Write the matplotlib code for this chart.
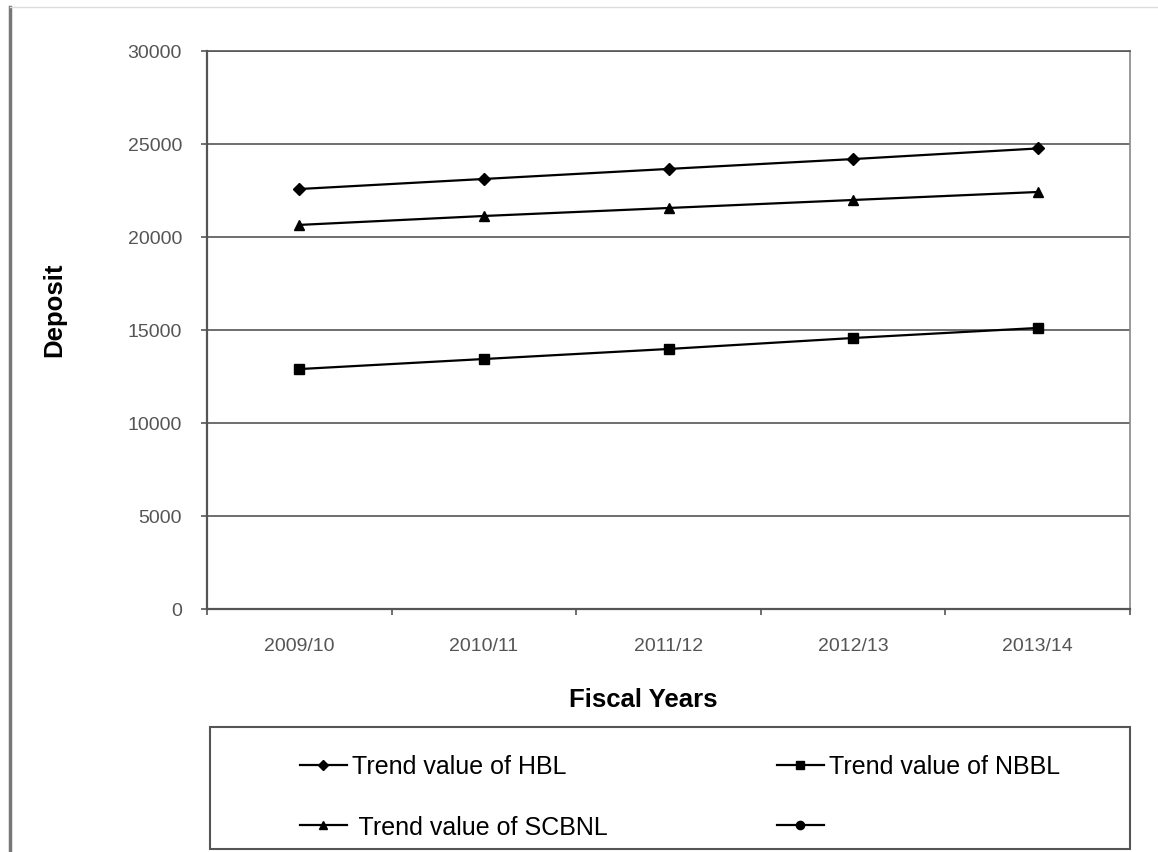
import matplotlib.pyplot as plt
from matplotlib.lines import Line2D
from matplotlib.patches import Rectangle

plt.rcParams['font.family'] = ['Liberation Sans', 'DejaVu Sans']

# Data
years = ['2009/10', '2010/11', '2011/12', '2012/13', '2013/14']
hbl = [22580, 23120, 23660, 24190, 24760]
nbbl = [12900, 13440, 13980, 14570, 15110]
scbnl = [20650, 21130, 21560, 21990, 22420]
y_ticks = [0, 5000, 10000, 15000, 20000, 25000, 30000]

W, H = 1158, 853
fig = plt.figure(figsize=(W / 100, H / 100), dpi=100)
ax = fig.add_axes([207 / W, 1 - 610 / H, 923 / W, 558 / H])

x = list(range(len(years)))
l1, = ax.plot(x, hbl, '-D', color='black', lw=1.6, ms=6, label='Trend value of HBL')
l2, = ax.plot(x, nbbl, '-s', color='black', lw=1.6, ms=7.5, label='Trend value of NBBL')
l3, = ax.plot(x, scbnl, '-^', color='black', lw=1.6, ms=7.5, label=' Trend value of SCBNL')
l4 = Line2D([], [], color='black', lw=1.6, marker='o', ms=7, label='')

ax.set_xlim(-0.5, len(years) - 0.5)
ax.set_ylim(0, 30000)
ax.set_yticks(y_ticks)
ax.set_yticklabels([str(v) for v in y_ticks], fontsize=14, color='#555555')
ax.tick_params(axis='y', direction='out', length=4, width=1.2, color='#555555', pad=14)

# ticks between categories, labels at centres
ax.set_xticks([i - 0.5 for i in range(len(years) + 1)])
ax.set_xticklabels([])
ax.set_xticks(x, minor=True)
ax.set_xticklabels(years, minor=True, fontsize=14, color='#555555')
ax.tick_params(axis='x', which='major', direction='out', length=4, width=1.2, color='#555555')
ax.tick_params(axis='x', which='minor', length=0, pad=20)

ax.yaxis.grid(True, color='#555555', lw=1.2)
ax.set_axisbelow(True)
for s in ['left', 'bottom']:
    ax.spines[s].set_color('#555555')
    ax.spines[s].set_linewidth(1.6)
ax.spines['right'].set_color('#888888')
ax.spines['right'].set_linewidth(1.2)
ax.spines['top'].set_color('#555555')
ax.spines['top'].set_linewidth(1.2)

fig.text(54 / W, 1 - 310 / H, 'Deposit', rotation=90, fontsize=18.5, fontweight='bold',
         ha='center', va='center')
fig.text(643 / W, 1 - 700 / H, 'Fiscal Years', fontsize=18.5, fontweight='bold',
         ha='center', va='center')

# legend box
fig.add_artist(Rectangle((210 / W, 1 - 850 / H), 920 / W, 122 / H, transform=fig.transFigure,
                         fill=False, edgecolor='#555555', lw=1.5))
fig.legend([l1, l3, l2, l4], [l1.get_label(), l3.get_label(), l2.get_label(), ''],
           ncol=2, frameon=False, loc='upper left', bbox_to_anchor=(287 / W, 1 - 743 / H),
           fontsize=18, handlelength=1.9, handletextpad=0.2, columnspacing=6.75,
           labelspacing=1.45, borderpad=0, markerscale=0.85)

# figure frame lines
fig.add_artist(Line2D([10 / W, 10 / W], [0, 1 - 8 / H], transform=fig.transFigure,
                      color='#777777', lw=2.5))
fig.add_artist(Line2D([10 / W, 1], [1 - 8 / H, 1 - 8 / H], transform=fig.transFigure,
                      color='#dddddd', lw=1))

fig.savefig('out.png', dpi=100)
